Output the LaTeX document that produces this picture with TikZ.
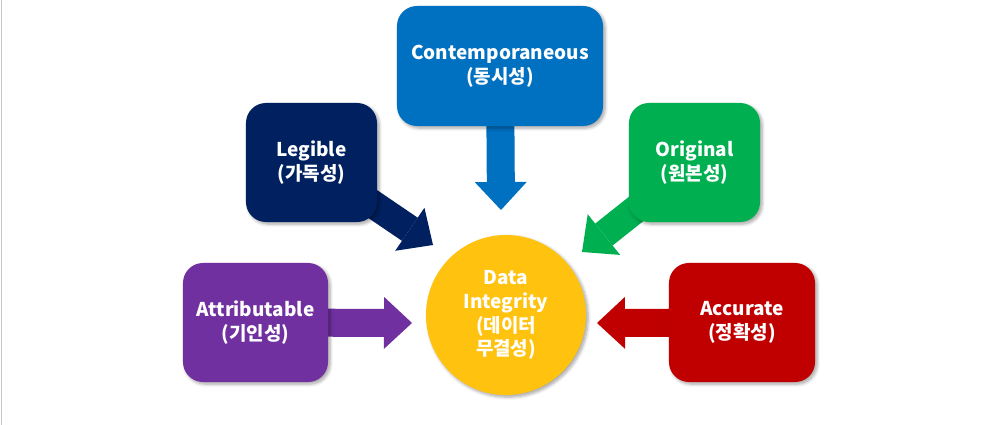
\documentclass[tikz,border=0pt]{standalone}
\usepackage{fontspec}
\setmainfont{Noto Sans CJK KR}
\usepackage{xcolor}
\usepackage{tikz}
\usetikzlibrary{arrows.meta, positioning, backgrounds, shadows.blur}

\definecolor{ciblue}{HTML}{0070C0}
\definecolor{cinavy}{HTML}{002060}
\definecolor{cigreen}{HTML}{00B050}
\definecolor{cipurple}{HTML}{7030A0}
\definecolor{cired}{HTML}{C00000}
\definecolor{ciyellow}{HTML}{FFC20E}

\begin{document}
\begin{tikzpicture}[
  x=0.025cm, y=-0.025cm,
  box/.style={rectangle, rounded corners=0.5cm, minimum height=2.975cm,
              text=white, align=center,
              font=\bfseries\fontsize{13.5}{17}\selectfont,
              blur shadow={shadow xshift=1.5pt, shadow yshift=-1.5pt,
                           shadow blur steps=6, shadow opacity=35}},
  blueblock/.style={box, fill=ciblue,   minimum width=5.15cm, minimum height=3cm},
  navyblock/.style={box, fill=cinavy,   minimum width=3.275cm},
  greenblock/.style={box, fill=cigreen, minimum width=3.275cm},
  purpleblock/.style={box, fill=cipurple, minimum width=3.625cm},
  redblock/.style={box, fill=cired,     minimum width=3.65cm},
  hub/.style={circle, fill=ciyellow, minimum size=4cm, inner sep=0pt,
              text=white, align=center,
              font=\bfseries\fontsize{13.5}{17}\selectfont,
              blur shadow={shadow xshift=1.5pt, shadow yshift=-1.5pt,
                           shadow blur steps=6, shadow opacity=35}},
  arr/.style={line width=0.7cm,
              -{Triangle[width=1.3cm, length=0.7cm, line width=0pt]}}
]
\useasboundingbox (0,0) rectangle (992,425);
\draw[black!22, line width=0.6pt] (1.5,0) -- (1.5,425);

%% ── centre circle ────────────────────────────────────────────────────
\node[hub] at (506,315) (core) {Data\\Integrity\\(데이터\\무결성)};

%% ── the five ALCOA boxes ─────────────────────────────────────────────
\node[blueblock]   at (500,66)    (cont) {Contemporaneous\\(동시성)};
\node[navyblock]   at (311.5,162.5) (leg) {Legible\\(가독성)};
\node[greenblock]  at (694.5,162.5) (orig) {Original\\(원본성)};
\node[purpleblock] at (255.5,322.5) (attr) {Attributable\\(기인성)};
\node[redblock]    at (742,322.5) (accu) {Accurate\\(정확성)};

%% ── arrow tips just short of the circle ──────────────────────────────
\coordinate (conttip) at (501,210);
\coordinate (legtip)  at (433,245);
\coordinate (origtip) at (582,252);
\coordinate (attrtip) at (412,323);
\coordinate (accutip) at (597,323);

%% ── block arrows, behind the boxes ───────────────────────────────────
\begin{scope}[on background layer]
\draw[arr, ciblue]   (cont.center) -- (conttip);
\draw[arr, cinavy]   (leg.center)  -- (legtip);
\draw[arr, cigreen]  (orig.center) -- (origtip);
\draw[arr, cipurple] (attr.center) -- (attrtip);
\draw[arr, cired]    (accu.center) -- (accutip);
\end{scope}

\end{tikzpicture}
\end{document}
